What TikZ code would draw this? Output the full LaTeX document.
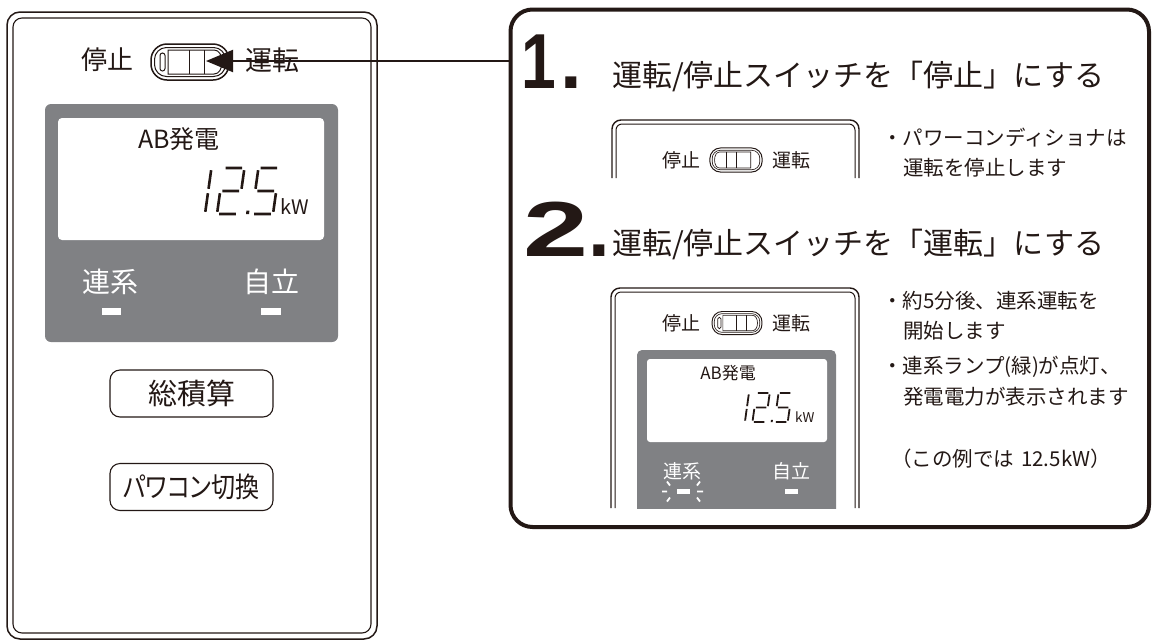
\documentclass[tikz,border=0pt]{standalone}
\usepackage{fontspec}
\setmainfont{Noto Sans CJK JP}
\newfontfamily\jpp{Noto Sans CJK JP}[RawFeature=+palt]
\newfontfamily\numfont{Liberation Sans}
\usetikzlibrary{arrows.meta}
\newcommand\fs[1]{\fontsize{#1pt}{#1pt}\selectfont}
\definecolor{lcdgray}{HTML}{808184}
\definecolor{ink}{HTML}{231815}

% switch body, drawn around (0,0); #1 = scale
\newcommand\swbody[1]{%
  \draw[ink, line width={1.5*#1}, rounded corners={16*#1}] (-39,-18) rectangle (39,18);
  \draw[ink, line width={1.0*#1}, rounded corners={12*#1}] (-35.5,-14.5) rectangle (35.5,14.5);
  \draw[ink, line width={1.0*#1}] (-22,-12) -- (24,-12) .. controls (29,-12) and (32,-7) .. (32,0)
        .. controls (32,7) and (29,12) .. (24,12) -- (-22,12) -- cycle;
  \draw[ink, line width={1.0*#1}] (-1,-12) -- (-1,12) (14,-12) -- (14,12);
}
\newcommand\swon[3]{%
  \begin{scope}[shift={(#1,#2)}, scale=#3]
    \swbody{#3}
    \draw[ink, line width={1.0*#3}, rounded corners={2.5*#3}] (-30,-9) rectangle (-25,9);
  \end{scope}}
\newcommand\swoff[3]{%
  \begin{scope}[shift={(#1,#2)}, scale=#3, xscale=-1]
    \swbody{#3}
  \end{scope}}

% seven segment "12.5", origin = bottom left, #1 = line width
\newcommand\lcdnum[1]{%
  \begin{scope}[xslant=0.14, yscale=-1, ink, line width=#1]
    \draw (3,43.8) -- (3,25.2) (3,20.8) -- (3,2.2);
    \draw (17.2,46) -- (33.8,46) (36,43.8) -- (36,25.2) (17.2,23) -- (33.8,23)
          (15,20.8) -- (15,2.2) (17.2,0) -- (33.8,0);
    \fill (44,0) rectangle (47,3.5);
    \draw (52.2,46) -- (68.8,46) (50,43.8) -- (50,25.2) (52.2,23) -- (68.8,23)
          (71,20.8) -- (71,2.2) (52.2,0) -- (68.8,0);
  \end{scope}}

\tikzset{
  txt/.style={inner sep=0, text=ink},
  btn/.style={draw=ink, line width=1.1, rounded corners=10, inner sep=0,
              minimum width=163, minimum height=47, text=ink},
  bigbox/.style={draw=ink, line width=4, rounded corners=22, inner sep=0,
              minimum width=638.5, minimum height=517.5},
  body/.style={txt, anchor=west, font=\fs{20.5}},
  stepnum/.style={txt, anchor=base west, font=\numfont\bfseries\fs{78}},
}

\begin{document}
\begin{tikzpicture}[x=1pt, y=-1pt]
\useasboundingbox (0,0) rectangle (1152,641);
\fill[white] (0,0) rectangle (1152,641);

% ---------------- left panel ----------------
\draw[ink, line width=1.5, rounded corners=13] (7,12) rectangle (377,639);
\draw[ink, line width=1.1, rounded corners=9] (13,18) rectangle (371,633);

\node[txt, font=\fs{26}] (stop) at (107,60) {停止};
\node[txt, font=\fs{27}] (run) at (272,60) {運転};
\swon{190}{62}{1}
\coordinate (tip) at (206,61);

\fill[lcdgray, rounded corners=6] (45,104) rectangle (338,342);
\fill[white, rounded corners=4] (58,118) rectangle (324,240);
\node[txt, font=\fs{25}] (ab) at (179,139) {AB発電};
\begin{scope}[shift={(202,214)}] \lcdnum{2.6} \end{scope}
\node[txt, font=\fs{20}, anchor=base west] (kw) at (280,214) {kW};
\node[txt, text=white, font=\fs{28}] (renkei) at (110.5,282) {連系};
\node[txt, text=white, font=\fs{28}] (jiritsu) at (271.5,282) {自立};
\fill[white] (102,308) rectangle (121,315);
\fill[white] (261,308) rectangle (281,315);

\node[btn, font=\fs{29}] (b1) at (191.5,393.5) {総積算};
\node[btn, font=\jpp\fs{28}] (b2) at (191.5,487) {\scalebox{0.86}[1]{パワコン切換}};

% ---------------- right box ----------------
\node[bigbox] (box1) at (829.75,268.25) {};
\draw[ink, line width=2, -{Triangle[length=27,width=22]}] (box1.west |- tip) -- (tip);

\node[stepnum] (n1) at (521,88) {\scalebox{0.8}[1]{1}\hspace{5pt}.};
\node[txt, anchor=base west, font=\fs{30}] (h1) at (612,86) {運転/停止スイッチを「停止」にする};

% step 1 panel
\draw[ink, line width=1.4, rounded corners=9] (612,178) -- (612,120) -- (859,120) -- (859,178);
\draw[ink, line width=1.0, rounded corners=6] (616,178) -- (616,124) -- (855,124) -- (855,178);
\node[txt, font=\fs{19}] (s1stop) at (681,160) {停止};
\node[txt, font=\fs{19}] (s1run) at (791,160) {運転};
\swoff{736}{160}{0.67}

\node[body] (t11) at (882,138) {・パワーコンディショナは};
\node[body] (t12) at (903,168) {運転を停止します};

\node[stepnum] (n2) at (523,256) {\scalebox{1.5}[1]{2}.};
\node[txt, anchor=base west, font=\fs{30}] (h2) at (612,254) {運転/停止スイッチを「運転」にする};

% step 2 panel
\draw[ink, line width=1.4, rounded corners=9] (611,508) -- (611,288) -- (859,288) -- (859,508);
\draw[ink, line width=1.0, rounded corners=6] (615,508) -- (615,292) -- (855,292) -- (855,508);
\node[txt, font=\fs{19}] (s2stop) at (681,323) {停止};
\node[txt, font=\fs{19}] (s2run) at (791,323) {運転};
\swon{737}{323}{0.64}

\begin{scope}
  \clip (600,340) rectangle (900,508);
  \fill[lcdgray, rounded corners=5] (637,350) rectangle (836,530);
\end{scope}
\fill[white, rounded corners=3] (647,359) rectangle (827,442);
\node[txt, font=\fs{17}] (ab2) at (728,373) {AB発電};
\begin{scope}[shift={(743,422)}, scale=0.63] \lcdnum{1.8} \end{scope}
\node[txt, font=\fs{13.5}, anchor=base west] (kw2) at (795,422) {kW};
\node[txt, text=white, font=\fs{19}] (renkei2) at (682.5,471) {連系};
\node[txt, text=white, font=\fs{19}] (jiritsu2) at (791,471) {自立};
\fill[white] (677,489) rectangle (690,494);
\fill[white] (785,489) rectangle (798,494);
\draw[white, line width=1.8] (662,491.5) -- (667,491.5) (697,491.5) -- (703,491.5)
  (670,485.5) -- (667,481.5) (697,485.5) -- (700,481.5)
  (670,497.5) -- (667,501.5) (697,497.5) -- (700,501.5);

\node[body] (t21) at (882,301) {・約5分後、連系運転を};
\node[body] (t22) at (903,331) {開始します};
\node[body] (t23) at (882,367) {・連系ランプ(緑)が点灯、};
\node[body] (t24) at (903,397) {発電電力が表示されます};
\node[body] (t25) at (891,459) {（この例では\hspace{7pt}12.5kW）};
\end{tikzpicture}
\end{document}
